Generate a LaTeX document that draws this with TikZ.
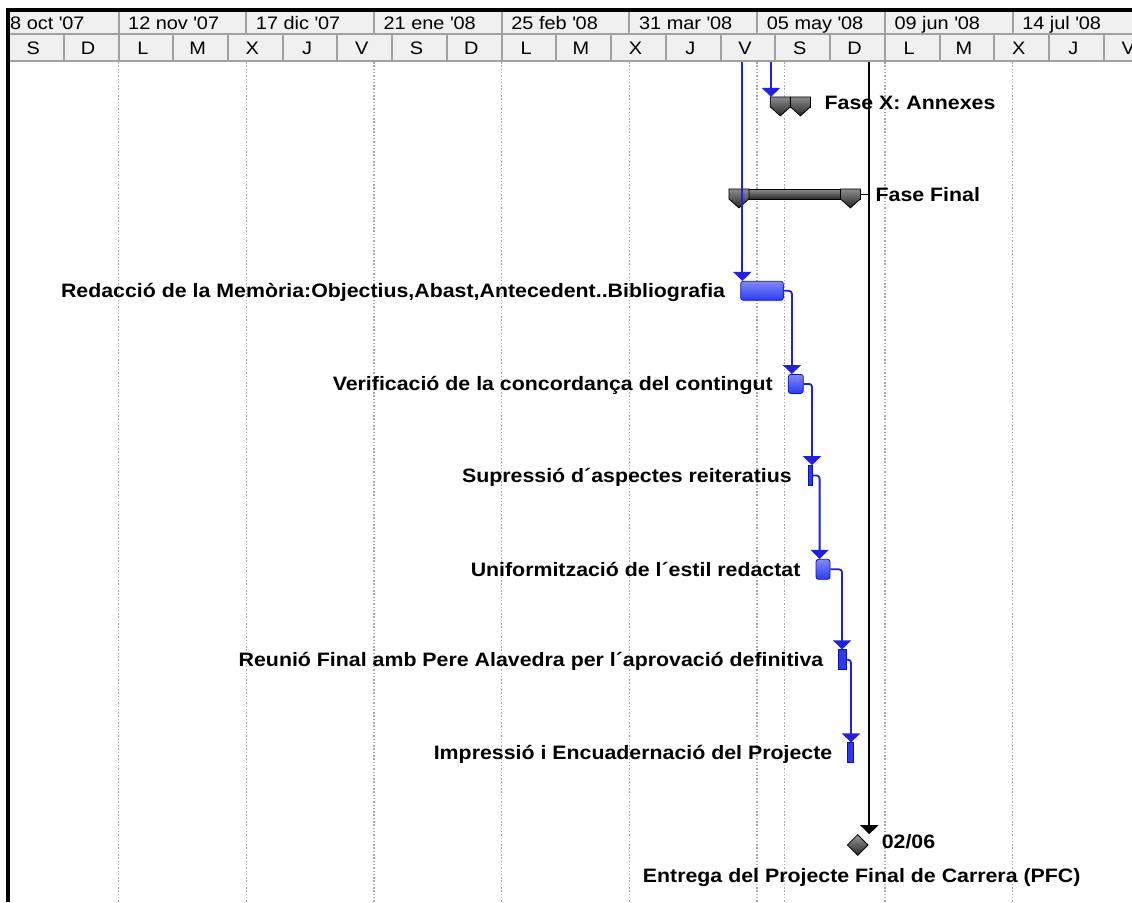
\documentclass[tikz,border=0pt]{standalone}
\usepackage{fontspec}
\newfontfamily\lblfont{Liberation Sans}[FakeStretch=1.1]
\usepackage{tikz}
\usetikzlibrary{shapes.geometric, arrows.meta, positioning}
\definecolor{LinkBlue}{HTML}{1F1FE6}
\definecolor{BarBlue}{HTML}{2B3BF5}
\definecolor{BarEdge}{HTML}{1010B0}
\definecolor{HeaderGray}{HTML}{F0F0F0}
\definecolor{RuleGray}{HTML}{A0A0A0}
\definecolor{GridGray}{HTML}{A8A8A8}
\tikzset{
  % Bar styles
  taskbar/.style={rectangle, rounded corners=2.5pt, draw=BarEdge, line width=0.8pt, top color=BarBlue!60!white, bottom color=BarBlue, inner sep=0pt, minimum height=19pt},
  thinbar/.style={rectangle, draw=BarEdge, line width=0.6pt, fill=BarBlue, inner sep=0pt, minimum height=20pt},
  sumbar/.style={rectangle, draw=black, line width=0.8pt, top color=black!45, bottom color=black!85, inner sep=0pt, minimum height=10pt},
  sumcap/.style={draw=black, line width=0.8pt, top color=black!45, bottom color=black!85},
  milestone/.style={diamond, draw=black, line width=0.8pt, top color=black!40, bottom color=black!85, inner sep=0pt, minimum width=21pt, minimum height=21pt},
  % Text styles
  tasklabel/.style={inner sep=0pt, text height=13.9pt, text depth=0pt, font=\lblfont\bfseries\fontsize{19.4}{23}\selectfont},
  hdrtext/.style={inner sep=0pt, text height=13pt, text depth=0pt, font=\lblfont\fontsize{18.1}{22}\selectfont},
  % Line styles
  link/.style={-{Triangle[width=18pt,length=9pt]}, line width=1.8pt, LinkBlue, rounded corners=3pt},
  deadline/.style={-{Triangle[width=18pt,length=9pt]}, line width=2.2pt, black},
  stub/.style={line width=1pt, black},
  hdrline/.style={RuleGray, line width=2pt},
  gridline/.style={GridGray, line width=1.4pt, dash pattern=on 1.5pt off 1.8pt}
}
\newcommand{\capdown}[1]{\draw[sumcap] (#1) ++(-10,0) -- ++(20,0) -- ++(0,10) -- ++(-10,9) -- ++(-10,-9) -- cycle;}

\begin{document}
\begin{tikzpicture}[x=1pt,y=-1pt]
  \useasboundingbox (0,0) rectangle (1132,902);
  \fill[white] (0,0) rectangle (1132,902);
  \begin{scope}
  \clip (0,0) rectangle (1132,902);

  % Timescale header
  \fill[HeaderGray] (6,11.5) rectangle (1132,61);
  \foreach \m in {0,...,7}
    \draw[hdrline] ({118.5+127.73*\m},11.5) -- ++(0,22.5);
  \foreach \k in {-1,...,19}
    \draw[hdrline] ({118.5+54.74*\k},34) -- ++(0,27);
  \draw[hdrline] (6,34) -- (1132,34);
  \draw[hdrline] (6,61) -- (1132,61);
  \node[hdrtext, anchor=west] (mon-1) at (10,22.5) {8 oct \textquotesingle07};
  \foreach \m/\txt in {0/12 nov \textquotesingle07, 1/17 dic \textquotesingle07, 2/21 ene \textquotesingle08, 3/25 feb \textquotesingle08, 4/31 mar \textquotesingle08, 5/05 may \textquotesingle08, 6/09 jun \textquotesingle08, 7/14 jul \textquotesingle08}
    \node[hdrtext, anchor=west] (mon\m) at ({118.5+127.73*\m+9.5},22.5) {\txt};
  \foreach \d [count=\k from -2] in {S,D,L,M,X,J,V,S,D,L,M,X,J,V,S,D,L,M,X,J,V}
    \node[hdrtext] (day\k) at ({118.5+54.74*(\k+0.5)-3},47.5) {\d};

  % Grid
  \foreach \m in {0,...,7}
    \draw[gridline] ({118.5+127.73*\m},62) -- ++(0,840);
  \draw[gridline] (784.3,62) -- (784.3,902);

  % Frame
  \fill[black] (6,8) rectangle (1132,11.5);
  \fill[black] (6,8) rectangle (10,902);

  % Summary bars
  \node[sumbar, minimum width=39.3pt] (fasex) at (790.35,102.3) {};
  \capdown{[xshift=10pt]fasex.north west}
  \capdown{[xshift=-10pt]fasex.north east}
  \node[tasklabel, right=14pt of fasex] (fasexlbl) {Fase X: Annexes};

  \node[sumbar, minimum width=130.7pt] (ffinal) at (794.65,194.3) {};
  \capdown{[xshift=10pt]ffinal.north west}
  \capdown{[xshift=-10pt]ffinal.north east}
  \node[tasklabel, right=15pt of ffinal] (ffinallbl) {Fase Final};

  % Tasks
  \node[taskbar, minimum width=42.6pt] (redac) at (762,290.8) {};
  \node[taskbar, minimum width=15pt] (verif) at (795.8,383.9) {};
  \node[thinbar, minimum width=4.4pt] (supr) at (810.5,475.5) {};
  \node[taskbar, minimum width=14pt, minimum height=20pt] (unif) at (823,569.3) {};
  \node[thinbar, minimum width=7.7pt] (reunio) at (842.2,659.7) {};
  \node[thinbar, minimum width=6pt] (impr) at (850.3,752.7) {};

  \node[tasklabel, left=15pt of redac] (redaclbl) {Redacció de la Memòria:Objectius,Abast,Antecedent..Bibliografia};
  \node[tasklabel, left=15pt of verif] (veriflbl) {Verificació de la concordança del contingut};
  \node[tasklabel, left=16pt of supr] (suprlbl) {Supressió d´aspectes reiteratius};
  \node[tasklabel, left=15pt of unif] (uniflbl) {Uniformització de l´estil redactat};
  \node[tasklabel, left=14.5pt of reunio] (reuniolbl) {Reunió Final amb Pere Alavedra per l´aprovació definitiva};
  \node[tasklabel, left=14.5pt of impr] (imprlbl) {Impressió i Encuadernació del Projecte};

  % Milestone
  \node[milestone] (fita) at (857.7,845) {};
  \node[tasklabel, right=13pt of fita, yshift=3pt] (fitadata) {02/06};
  \node[tasklabel, below=12.5pt of fita, xshift=4pt] (fitalbl) {Entrega del Projecte Final de Carrera (PFC)};

  % Links
  \coordinate (ltop1) at (742.3,62);
  \coordinate (ltop2) at (771,62);
  \coordinate (ktop) at (869.3,62);
  \draw[link] (ltop1) -- (ltop1 |- redac.north);
  \draw[link] (ltop2) -- (ltop2 |- fasex.north);
  \foreach \a/\b in {redac/verif, verif/supr, supr/unif, unif/reunio, reunio/impr}
    \draw[link] (\a.east) -| ([xshift=4pt]\b.north west);
  \draw[stub] (ffinal.east) -- (ffinal.east -| ktop);
  \draw[deadline] (ktop) -- (ktop |- fita.north);
  \end{scope}
\end{tikzpicture}
\end{document}
